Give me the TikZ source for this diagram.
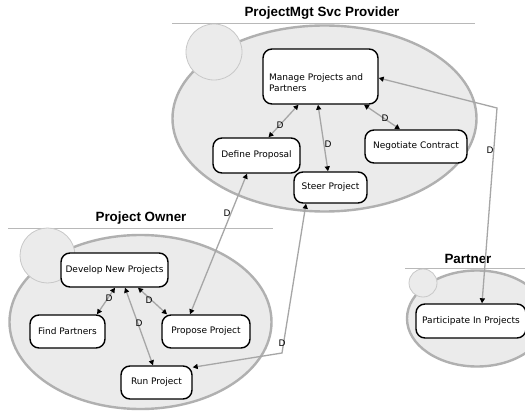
\documentclass[tikz,border=0pt]{standalone}
\usepackage{fontspec}
\setmainfont{DejaVu Sans}
\newfontfamily\titlefont{Liberation Sans}
\usetikzlibrary{arrows.meta,calc}
\definecolor{ellfill}{HTML}{EBEBEB}
\definecolor{ellline}{HTML}{B0B0B0}
\definecolor{conline}{HTML}{A6A6A6}
\definecolor{circline}{HTML}{C8C8C8}
\definecolor{ttlline}{HTML}{B8B8B8}
\tikzset{
  usecase/.style={draw=black, line width=1.4pt, fill=white, rounded corners=9pt,
    font=\fontsize{9}{10.5}\selectfont, inner sep=2pt},
  casetext/.style={font=\fontsize{9}{11}\selectfont, inner sep=0pt, align=left},
  actorell/.style={draw=ellline, line width=2.4pt, fill=ellfill},
  actorcirc/.style={draw=circline, line width=0.8pt, fill=ellfill},
  ttl/.style={font=\titlefont\bfseries\fontsize{13.4}{15}\selectfont},
  ttlrule/.style={draw=ttlline, line width=0.9pt},
  conn/.style={draw=conline, line width=1.3pt,
    {Triangle[length=5pt,width=5pt,fill=black,color=black]}-{Triangle[length=5pt,width=5pt,fill=black,color=black]}},
  dlab/.style={font=\fontsize{9}{10}\selectfont, inner sep=0pt}
}
\begin{document}
\begin{tikzpicture}[x=1pt,y=-1pt]
\useasboundingbox (0,0) rectangle (525,414);
\fill[white] (0,0) rectangle (525,414);
\clip (0,0) rectangle (525,414);

% titles and rules
\node[ttl] (t1) at (322,13) {ProjectMgt Svc Provider};
\draw[ttlrule] (172,23) -- (475,23);
\node[ttl] (t2) at (141,218) {Project Owner};
\draw[ttlrule] (8,228) -- (273,228);
\node[ttl] (t3) at (468,259) {Partner};
\draw[ttlrule] (405,268) -- (525,268);

% actor ellipses
\draw[actorell] (324.5,118.5) ellipse [x radius=152, y radius=93];
\draw[actorcirc] (214,52) circle [radius=28];
\draw[actorell] (140.5,322) ellipse [x radius=131, y radius=87];
\draw[actorcirc] (47.5,255.5) circle [radius=27.5];
\draw[actorell] (477,318.5) ellipse [x radius=70, y radius=48];
\draw[actorcirc] (423,283) circle [radius=14];

% use cases
\node[usecase, minimum width=115pt, minimum height=55pt] (manage) at (320.5,76.5) {};
\node[casetext, anchor=west] (managetxt) at (269,82.5) {Manage Projects and\\Partners};
\node[usecase, minimum width=87pt, minimum height=35pt] (define) at (256.5,155.5) {Define Proposal};
\node[usecase, minimum width=73pt, minimum height=31pt] (steer) at (330.5,187.5) {Steer Project};
\node[usecase, minimum width=102pt, minimum height=33pt] (negotiate) at (416,146.5) {Negotiate Contract};
\node[usecase, minimum width=107pt, minimum height=34pt] (develop) at (114.5,270) {Develop New Projects};
\node[usecase, minimum width=75pt, minimum height=33pt] (findp) at (67.5,331.5) {Find Partners};
\node[usecase, minimum width=88pt, minimum height=33pt] (propose) at (206,331.5) {Propose Project};
\node[usecase, minimum width=71pt, minimum height=33pt] (run) at (156.5,382.5) {Run Project};
\node[usecase, minimum width=110pt, minimum height=34pt] (participate) at (471,321) {Participate In Projects};

% connectors
\coordinate (c4) at (497,108);
\coordinate (c6) at (282,353);
\draw[conn] ([xshift=-22pt]manage.south) -- ([xshift=12pt]define.north);
\draw[conn] ([xshift=-2.5pt]manage.south) -- ([xshift=-2.5pt]steer.north);
\draw[conn] ([xshift=43.5pt]manage.south) -- ([xshift=-16pt]negotiate.north);
\draw[conn] ([yshift=-1.5pt]manage.east) -- (c4) -- ([xshift=11pt]participate.north);
\draw[conn] ([xshift=-9.5pt]define.south) -- ([xshift=-16pt]propose.north);
\draw[conn] ([xshift=-24.5pt]steer.south) -- (c6) -- ([yshift=-2pt]run.north east);
\draw[conn] ([xshift=0.5pt]develop.south) -- ([xshift=29.5pt]findp.north);
\draw[conn] ([xshift=23.5pt]develop.south) -- ([xshift=-39pt]propose.north);
\draw[conn] ([xshift=10.5pt]develop.south) -- ([xshift=-3.5pt]run.north);

% labels
\node[dlab] (d1) at (280,125) {D};
\node[dlab] (d2) at (328,144) {D};
\node[dlab] (d3) at (385,118) {D};
\node[dlab] (d4) at (490,150) {D};
\node[dlab] (d5) at (227,213) {D};
\node[dlab] (d6) at (282,343) {D};
\node[dlab] (d7) at (109,298) {D};
\node[dlab] (d8) at (149,300) {D};
\node[dlab] (d9) at (139,323) {D};
\end{tikzpicture}
\end{document}
